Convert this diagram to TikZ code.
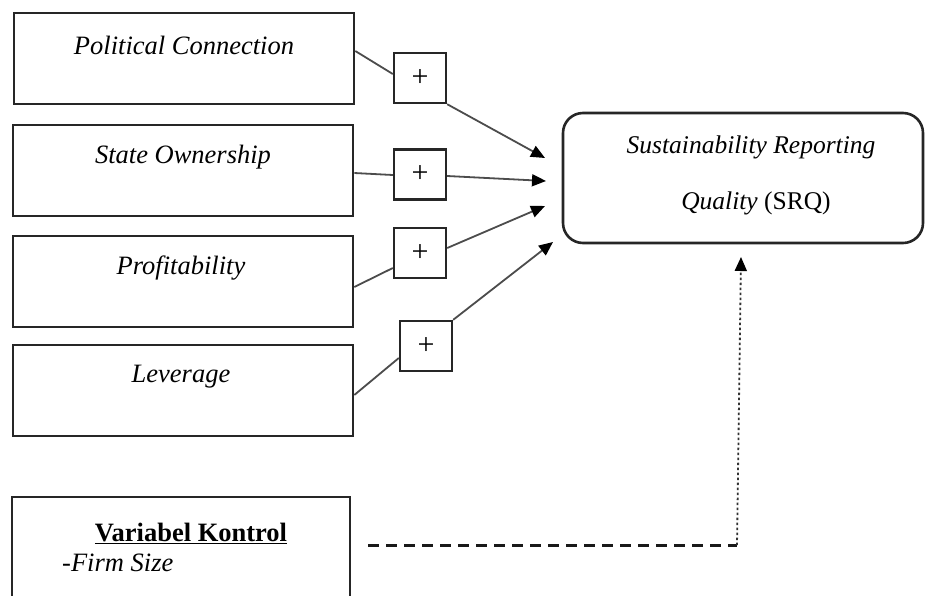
\documentclass[tikz,border=0pt]{standalone}
\usepackage{fontspec}
\setmainfont{Liberation Serif}
\usetikzlibrary{arrows.meta}
\begin{document}
\begin{tikzpicture}[x=1pt,y=-1pt,
  varbox/.style={draw=black!85,line width=2.6pt,rectangle,minimum width=340pt,minimum height=91pt,inner sep=0pt},
  plusbox/.style={draw=black!85,line width=2.4pt,rectangle,minimum width=52pt,minimum height=50pt,inner sep=0pt,font=\fontsize{30}{32}\selectfont},
  lbl/.style={font=\fontsize{26.5}{30}\selectfont\itshape,inner sep=0pt},
  conn/.style={draw=black!70,line width=1.8pt},
  arr/.style={conn,-{Triangle[length=14pt,width=12pt,color=black,fill=black]}},
  srqbox/.style={draw=black!85,line width=2.6pt,rectangle,rounded corners=20pt,minimum width=360pt,minimum height=130pt,inner sep=0pt}
]
\path[use as bounding box,fill=white] (0,0) rectangle (925,595);

% left boxes
\node[varbox] (b1) at (184,58.5) {};
\node[lbl] (t1) at (184,45) {Political Connection};
\node[varbox] (b2) at (183,170.5) {};
\node[lbl] (t2) at (183,157) {State Ownership};
\node[varbox] (b3) at (183,281.5) {};
\node[lbl] (t3) at (181,268) {Profitability};
\node[varbox] (b4) at (183,390.5) {};
\node[lbl] (t4) at (181,377) {Leverage};

% control box (cut at the bottom)
\draw[draw=black!85,line width=2.6pt] (12,600) -- (12,497) -- (350,497) -- (350,600);
\node[font=\fontsize{26.5}{30}\selectfont\bfseries,inner sep=0pt] (t5) at (191,533) {\underline{Variabel Kontrol}};
\node[font=\fontsize{26.5}{30}\selectfont\itshape,inner sep=0pt,anchor=west] (t6) at (62,563) {-Firm Size};

% plus boxes
\node[plusbox] (p1) at (420,78) {+};
\node[plusbox] (p2) at (420,174.5) {+};
\node[plusbox] (p3) at (420,253) {+};
\node[plusbox] (p4) at (426,346) {+};

% SRQ
\node[srqbox] (srq) at (743,178) {};
\node[font=\fontsize{25.5}{30}\selectfont\itshape,inner sep=0pt] (s1) at (751,147) {Sustainability Reporting};
\node[font=\fontsize{25.5}{30}\selectfont,inner sep=0pt] (s2) at (756,203) {\textit{Quality} (SRQ)};

% arrow targets
\coordinate (e1) at (545,158);
\coordinate (e2) at (546,181);
\coordinate (e3) at (545,206);
\coordinate (e4) at (553,242);
\coordinate (c1) at (368,545);
\coordinate (c2) at (737,545);
\coordinate (e5) at (741,257);

% connectors
\draw[conn] (b1.east |- 0,51) -- (p1.west |- 0,74);
\draw[arr] (p1.south east) -- (e1);
\draw[conn] (b2.east |- 0,173) -- (p2.west |- 0,175);
\draw[arr] (p2.east |- 0,176) -- (e2);
\draw[conn] (b3.east |- 0,287) -- (p3.west |- 0,268);
\draw[arr] (p3.east |- 0,248) -- (e3);
\draw[conn] (b4.east |- 0,395) -- (p4.west |- 0,358);
\draw[arr] (p4.north east) -- (e4);

% control connector
\draw[black!90,line width=3pt,dash pattern=on 11pt off 7pt] (c1) -- (c2);
\draw[black!80,line width=1.8pt,dash pattern=on 2.5pt off 2.5pt,-{Triangle[length=14pt,width=12pt,color=black,fill=black]}] (c2) -- (e5);
\end{tikzpicture}
\end{document}
